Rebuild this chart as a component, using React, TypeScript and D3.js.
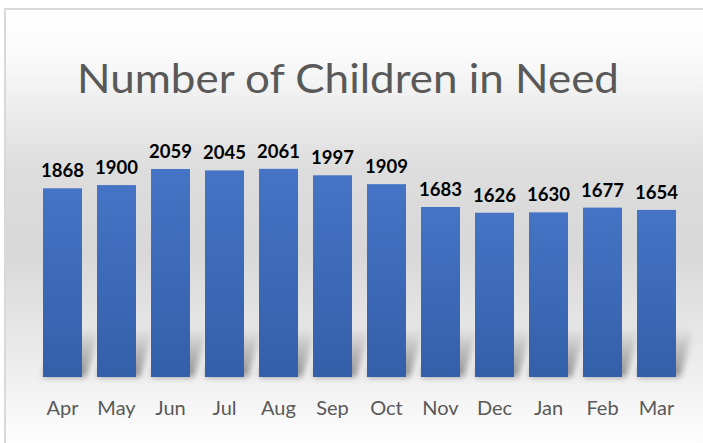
import * as d3 from "d3";

const months = ["Apr", "May", "Jun", "Jul", "Aug", "Sep", "Oct", "Nov", "Dec", "Jan", "Feb", "Mar"];
const children = [1868, 1900, 2059, 2045, 2061, 1997, 1909, 1683, 1626, 1630, 1677, 1654];
const title = "Number of Children in Need";

const W = 703;
const H = 443;

export default function App() {
  const base = 377;
  const x = d3
    .scaleBand<string>()
    .domain(months)
    .range([35.5, 683.5])
    .paddingInner(0.278)
    .paddingOuter(0.139);
  const y = d3.scaleLinear().domain([0, 2500]).range([base, base - 2500 / 9.9]);
  const bw = x.bandwidth();

  return (
    <svg
      width={W}
      height={H}
      style={{ position: "absolute", left: 0, top: 0 }}
      fontFamily="Lato, 'Open Sans', sans-serif"
    >
      <defs>
        <linearGradient id="bg" x1="0" y1="0" x2="0" y2="1">
          <stop offset="0" stopColor="#ffffff" />
          <stop offset="0.1" stopColor="#fbfbfb" />
          <stop offset="0.36" stopColor="#dddddd" />
          <stop offset="0.55" stopColor="#d8d8d8" />
          <stop offset="0.78" stopColor="#ebebeb" />
          <stop offset="0.92" stopColor="#f8f8f8" />
          <stop offset="1" stopColor="#ffffff" />
        </linearGradient>
        <linearGradient id="bar" x1="0" y1="0" x2="0" y2="1">
          <stop offset="0" stopColor="#4574c6" />
          <stop offset="1" stopColor="#345fa9" />
        </linearGradient>
        <linearGradient id="shade" x1="0" y1="1" x2="0" y2="0">
          <stop offset="0" stopColor="#7a7a7a" stopOpacity="0.85" />
          <stop offset="0.6" stopColor="#909090" stopOpacity="0.45" />
          <stop offset="1" stopColor="#a0a0a0" stopOpacity="0" />
        </linearGradient>
        <filter id="blur" x="-50%" y="-50%" width="200%" height="200%">
          <feGaussianBlur stdDeviation="3.2" />
        </filter>
      </defs>

      <rect x={5} y={9} width={W} height={H} fill="url(#bg)" stroke="#d9d9d9" strokeWidth={2} />

      <text
        x={348}
        y={93}
        textAnchor="middle"
        fontSize={40}
        fill="#595959"
        textLength={542}
        lengthAdjust="spacingAndGlyphs"
      >
        {title}
      </text>

      <g filter="url(#blur)">
        {months.map((m) => {
          const x0 = x(m)!;
          const x1 = x0 + bw;
          const pts = [
            [x0, base],
            [x1 + 4, base],
            [x1 + 18, base - 50],
            [x0 + 14, base - 50],
          ];
          return <polygon key={m} points={pts.map((p) => p.join(",")).join(" ")} fill="url(#shade)" />;
        })}
      </g>

      <g>
        {months.map((m, i) => (
          <rect key={m} x={x(m)} y={y(children[i])} width={bw} height={base - y(children[i])} fill="url(#bar)" />
        ))}
      </g>

      <g fontWeight="bold" fontSize={18.5} fill="#000" textAnchor="middle">
        {months.map((m, i) => (
          <text key={m} x={x(m)! + bw / 2} y={y(children[i]) - 11}>
            {children[i]}
          </text>
        ))}
      </g>

      <g fontSize={20} fill="#595959" textAnchor="middle">
        {months.map((m) => (
          <text key={m} x={x(m)! + bw / 2} y={415}>
            {m}
          </text>
        ))}
      </g>
    </svg>
  );
}
